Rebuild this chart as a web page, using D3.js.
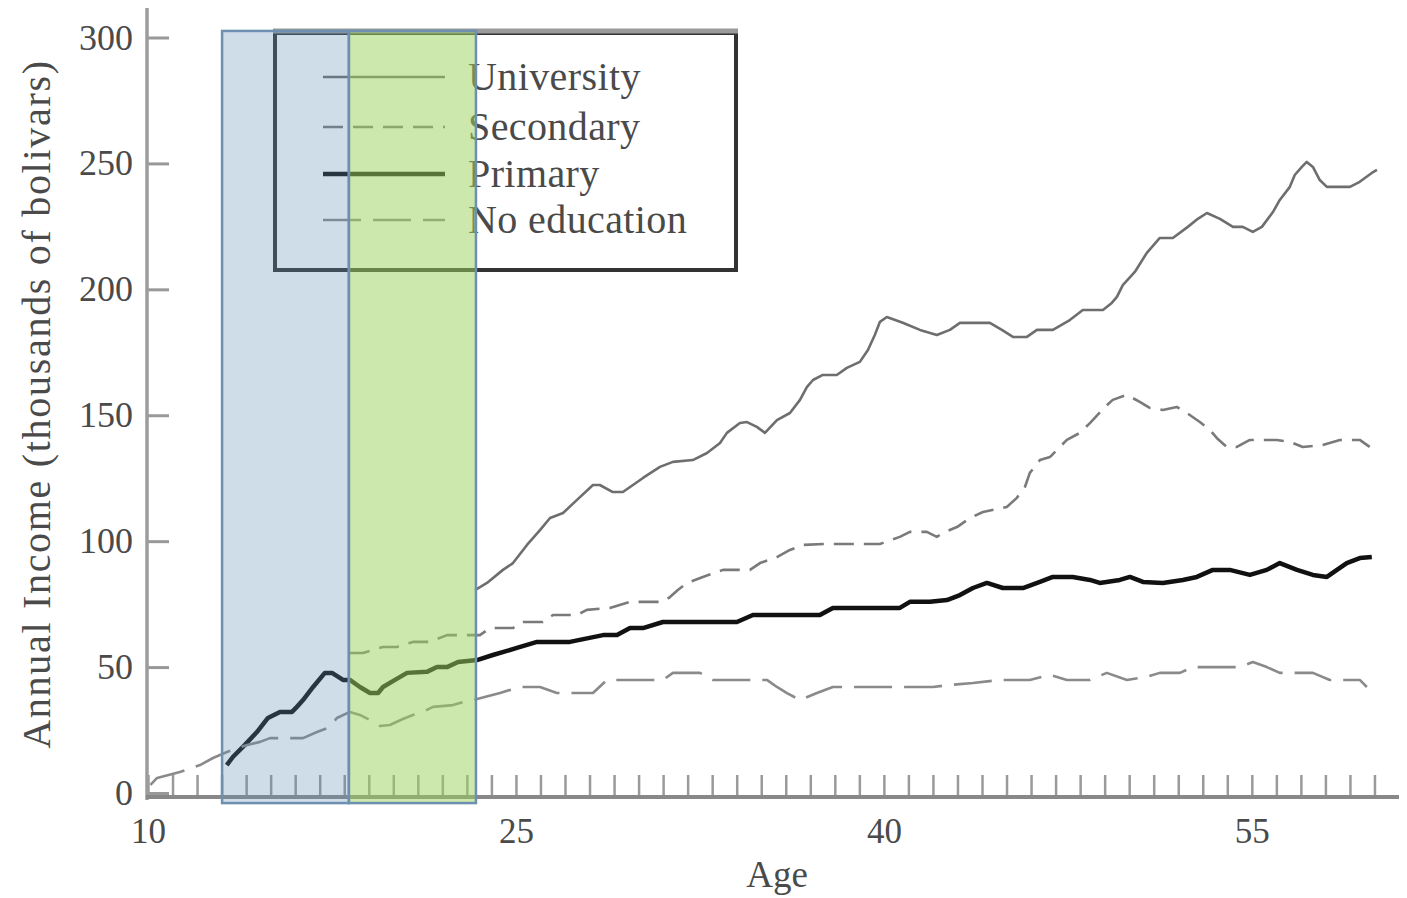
<!DOCTYPE html>
<html>
<head>
<meta charset="utf-8">
<script src="https://cdn.jsdelivr.net/npm/d3@7"></script>
<style>
  html, body { margin: 0; padding: 0; background: #fff; }
  svg { display: block; }
  text { font-family: "Liberation Serif", "Times New Roman", serif; fill: #4a4a4a; }
</style>
</head>
<body>
<svg id="chart" width="1407" height="898"></svg>
<script>
// ---------- data (age, annual income in thousands of bolivars) ----------
const seriesNames = ["University", "Secondary", "Primary", "No education"];

const university = [
  [23.33,80.6],[23.82,83.4],[24.47,88.6],[24.88,91.3],[25.45,98.5],[25.98,104.4],[26.39,109.2],
  [26.92,111.2],[27.49,116.4],[28.14,122.3],[28.42,122.3],[28.95,119.5],[29.36,119.5],[30.18,125.1],
  [30.87,129.5],[31.40,131.5],[32.21,132.2],[32.79,135.0],[33.32,139.0],[33.60,143.0],[34.13,146.9],
  [34.42,147.3],[34.82,145.4],[35.15,143.0],[35.64,148.1],[36.17,150.9],[36.58,156.1],[36.86,161.2],
  [37.11,164.0],[37.51,166.0],[38.08,166.0],[38.49,168.8],[39.02,171.2],[39.35,175.9],[39.63,181.9],
  [39.84,187.1],[40.12,189.0],[40.77,186.7],[41.47,183.9],[42.16,181.9],[42.69,183.9],[43.10,186.7],
  [44.32,186.7],[44.81,183.9],[45.26,181.1],[45.83,181.1],[46.24,183.9],[46.89,183.9],[47.58,187.8],
  [48.11,191.8],[48.93,191.8],[49.29,194.6],[49.50,197.0],[49.74,201.7],[50.23,206.9],[50.72,214.5],
  [51.25,220.4],[51.78,220.4],[52.39,224.8],[52.80,228.0],[53.17,230.3],[53.70,228.0],[54.23,224.8],
  [54.63,224.8],[55.04,222.8],[55.41,224.8],[55.86,230.7],[56.14,235.5],[56.55,240.7],[56.75,245.4],
  [57.04,248.6],[57.24,250.6],[57.49,248.6],[57.77,243.4],[58.06,240.7],[59.00,240.7],[59.40,242.7],
  [59.89,246.2],[60.10,247.4]
];

const secondary = [
  [18.23,55.6],[18.76,55.6],[19.58,58.0],[20.15,58.0],[20.80,60.0],[21.49,60.0],[22.19,62.7],
  [22.84,62.7],[23.53,62.7],[23.94,65.5],[24.88,65.5],[25.29,67.9],[26.10,67.9],[26.51,70.7],
  [27.49,70.7],[27.89,72.7],[28.83,73.5],[29.65,75.9],[30.99,75.9],[31.28,77.8],[31.60,80.6],
  [31.97,83.4],[32.62,85.8],[33.44,88.6],[34.54,88.6],[34.95,91.3],[35.64,93.7],[36.17,96.5],
  [36.70,98.5],[37.68,98.9],[38.74,98.9],[39.84,98.9],[40.65,101.7],[41.06,103.7],[41.75,103.7],
  [42.16,101.7],[42.41,103.3],[42.98,105.6],[43.51,109.2],[44.04,111.6],[45.01,113.6],[45.42,117.2],
  [45.75,121.5],[45.95,127.1],[46.36,132.2],[46.77,133.4],[47.05,136.2],[47.46,140.2],[47.99,143.0],
  [48.40,146.9],[49.01,153.3],[49.33,156.1],[49.91,158.1],[50.43,155.3],[50.84,152.9],[51.37,152.1],
  [51.94,153.3],[52.47,150.1],[52.88,147.3],[53.29,144.2],[53.57,141.0],[53.98,137.4],[54.39,137.4],
  [54.92,140.2],[56.02,140.2],[56.55,139.4],[57.08,137.4],[57.89,138.2],[58.59,140.2],[59.40,140.2],
  [59.81,137.4],[59.93,135.0]
];

const primary = [
  [13.21,11.1],[13.46,14.3],[13.95,19.1],[14.44,24.2],[14.89,29.8],[15.38,32.2],[15.87,32.2],
  [16.07,34.2],[16.32,36.9],[16.73,42.1],[17.21,47.7],[17.50,47.7],[17.95,44.9],[18.23,44.9],
  [18.64,42.1],[19.05,39.7],[19.38,39.7],[19.58,42.1],[20.07,44.9],[20.56,47.7],[21.37,48.1],
  [21.78,50.0],[22.19,50.0],[22.64,52.0],[23.41,52.8],[24.06,54.8],[25.04,57.6],[25.86,60.0],
  [27.20,60.0],[28.55,62.7],[29.12,62.7],[29.65,65.5],[30.18,65.5],[30.99,67.9],[32.79,67.9],
  [34.01,67.9],[34.66,70.7],[37.39,70.7],[37.92,73.5],[40.65,73.5],[41.06,75.9],[41.88,75.9],
  [42.57,76.6],[43.10,78.6],[43.63,81.4],[44.20,83.4],[44.85,81.4],[45.67,81.4],[46.36,83.8],
  [46.89,85.8],[47.70,85.8],[48.40,84.6],[48.80,83.4],[49.62,84.6],[50.03,85.8],[50.56,83.8],
  [51.37,83.4],[52.19,84.6],[52.76,85.8],[53.41,88.6],[54.10,88.6],[54.92,86.6],[55.61,88.6],
  [56.14,91.3],[56.84,88.6],[57.49,86.6],[58.06,85.8],[58.47,88.6],[58.87,91.3],[59.40,93.3],
  [59.89,93.7]
];

const noEducation = [
  [10.10,3.2],[10.37,6.0],[11.30,8.3],[12.12,11.1],[12.65,13.9],[13.22,16.3],[14.04,19.1],
  [14.57,20.3],[14.97,21.8],[16.32,21.8],[16.89,24.2],[17.42,26.2],[17.70,29.8],[18.23,32.2],
  [18.64,31.0],[19.05,29.0],[19.46,26.6],[19.86,27.0],[20.39,29.4],[20.80,31.0],[21.21,32.2],
  [21.62,34.2],[22.43,34.9],[22.84,36.1],[23.25,36.9],[24.35,39.7],[25.16,42.1],[25.98,42.1],
  [26.67,39.7],[28.14,39.7],[28.71,44.9],[30.99,44.9],[31.40,47.7],[32.50,47.7],[33.03,44.9],
  [35.23,44.9],[35.64,42.1],[36.05,39.7],[36.58,36.9],[37.27,39.7],[37.92,42.1],[42.00,42.1],
  [42.69,42.9],[43.63,43.7],[44.73,44.9],[45.95,44.9],[46.77,46.9],[47.46,44.9],[48.40,44.9],
  [49.09,47.7],[49.91,44.9],[50.72,46.1],[51.25,47.7],[52.07,47.7],[52.60,50.0],[54.51,50.0],
  [55.04,52.0],[55.61,50.0],[56.14,47.7],[57.49,47.7],[58.18,44.9],[59.40,44.9],[59.69,42.1]
];

// shaded age bands [start age, end age]
const bandStarts = [13.02, 18.19];
const bandEnds   = [18.19, 23.37];

// axis ticks
const yTickValues = [0, 50, 100, 150, 200, 250, 300];
const xLabelValues = [10, 25, 40, 55];

// ---------- chart ----------
const svg = d3.select("#chart");
const x = d3.scaleLinear().domain([10, 61]).range([148, 1399]);
const y = d3.scaleLinear().domain([0, 300]).range([793, 37.5]);

const styles = {
  "University":   { color: "#6e6e6e", width: 2.6, dash: null },
  "Secondary":    { color: "#7a7a7a", width: 2.6, dash: "20,10" },
  "Primary":      { color: "#111111", width: 4.5, dash: null },
  "No education": { color: "#8a8a8a", width: 2.6, dash: "38,12" }
};
const seriesData = [university, secondary, primary, noEducation];

// axes
const xAxis = d3.axisBottom(x)
  .tickValues(d3.range(10, 61, 1))
  .tickSizeInner(-22).tickSizeOuter(0).tickPadding(21)
  .tickFormat(d => xLabelValues.includes(d) ? String(d) : "");
const gx = svg.append("g").attr("transform", "translate(0,797)").call(xAxis);
gx.select(".domain").remove();
gx.selectAll(".tick line").attr("stroke", "#9a9a9a").attr("stroke-width", 2.5);
gx.selectAll(".tick text").attr("font-size", 35).attr("dy", "0.71em").style("fill", "#4a4a4a");

const yAxis = d3.axisLeft(y)
  .tickValues(yTickValues)
  .tickSizeInner(-22).tickSizeOuter(0).tickPadding(14);
const gy = svg.append("g").attr("transform", "translate(147,0)").call(yAxis);
gy.select(".domain").remove();
gy.selectAll(".tick line").attr("stroke", "#999").attr("stroke-width", 3);
gy.selectAll(".tick text").attr("font-size", 36).style("fill", "#4a4a4a");

// axis lines
svg.append("line").attr("x1", 147).attr("x2", 147).attr("y1", 8).attr("y2", 800)
  .attr("stroke", "#9c9c9c").attr("stroke-width", 3.5);
svg.append("line").attr("x1", 146).attr("x2", 1399).attr("y1", 797).attr("y2", 797)
  .attr("stroke", "#888").attr("stroke-width", 4);

// axis titles
svg.append("text").attr("x", 777).attr("y", 887).attr("text-anchor", "middle")
  .attr("font-size", 37).text("Age");
svg.append("text").attr("transform", "translate(36,404) rotate(-90)")
  .attr("text-anchor", "middle").attr("dominant-baseline", "central")
  .attr("font-size", 40).attr("letter-spacing", 1.7)
  .text("Annual Income (thousands of bolivars)");

// lines
const line = d3.line().x(d => x(d[0])).y(d => y(d[1]));
seriesNames.forEach((name, i) => {
  const s = styles[name];
  svg.append("path").datum(seriesData[i])
    .attr("d", line).attr("fill", "none")
    .attr("stroke", s.color).attr("stroke-width", s.width)
    .attr("stroke-dasharray", s.dash)
    .attr("stroke-linejoin", "round");
});

// legend
const lg = svg.append("g");
lg.append("rect").attr("x", 275).attr("y", 33).attr("width", 461).attr("height", 237)
  .attr("fill", "#fff").attr("stroke", "#333").attr("stroke-width", 4);
lg.append("line").attr("x1", 273).attr("x2", 738).attr("y1", 31).attr("y2", 31)
  .attr("stroke", "#9a9a9a").attr("stroke-width", 5);
const legendY = [77, 127, 174, 220];
seriesNames.forEach((name, i) => {
  const s = styles[name];
  lg.append("line").attr("x1", 323).attr("x2", 445).attr("y1", legendY[i]).attr("y2", legendY[i])
    .attr("stroke", s.color).attr("stroke-width", s.width).attr("stroke-dasharray", s.dash);
  lg.append("text").attr("x", 468).attr("y", legendY[i] + 13).attr("font-size", 40)
    .attr("letter-spacing", 0.4).text(name);
});

// shaded bands on top
const bandFills = ["rgba(95,142,182,0.30)", "rgba(157,210,94,0.51)"];
bandStarts.forEach((b, i) => {
  svg.append("rect")
    .attr("x", x(b)).attr("width", x(bandEnds[i]) - x(b))
    .attr("y", y(302.6)).attr("height", y(-4) - y(302.6))
    .attr("fill", bandFills[i])
    .attr("stroke", "#6d8fb0").attr("stroke-width", 2.5);
});
</script>
</body>
</html>
